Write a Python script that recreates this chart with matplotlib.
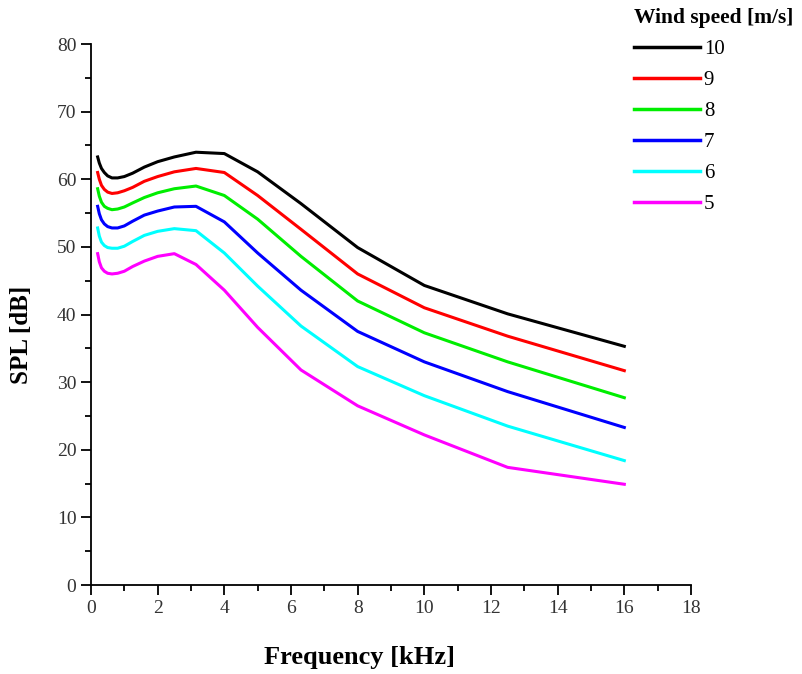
import matplotlib
matplotlib.use("Agg")
from matplotlib import pyplot as plt
from matplotlib.ticker import MultipleLocator

plt.rcParams["font.family"] = ["Liberation Serif", "DejaVu Serif"]

# one-third octave band centre frequencies [kHz]
freq = [0.2, 0.25, 0.315, 0.4, 0.5, 0.63, 0.8, 1.0, 1.25, 1.6, 2.0, 2.5,
        3.15, 4.0, 5.0, 6.3, 8.0, 10.0, 12.5, 16.0]

# SPL [dB] per wind speed [m/s]
spl_10 = [63.3, 62.4, 61.6, 61.0, 60.5, 60.2, 60.2, 60.4, 60.9, 61.8, 62.6, 63.3,
          64.0, 63.8, 61.1, 56.4, 49.9, 44.3, 40.1, 35.3]
spl_9 = [61.0, 60.0, 59.1, 58.5, 58.1, 57.9, 58.0, 58.3, 58.8, 59.7, 60.4, 61.1,
         61.6, 61.0, 57.6, 52.6, 46.0, 41.0, 36.8, 31.7]
spl_8 = [58.6, 57.5, 56.6, 56.0, 55.7, 55.5, 55.6, 55.9, 56.5, 57.3, 58.0, 58.6,
         59.0, 57.6, 54.1, 48.6, 42.0, 37.3, 33.0, 27.7]
spl_7 = [56.0, 54.9, 54.0, 53.4, 53.0, 52.8, 52.8, 53.1, 53.8, 54.7, 55.3, 55.9,
         56.0, 53.7, 49.1, 43.6, 37.5, 33.0, 28.6, 23.3]
spl_6 = [52.8, 51.6, 50.7, 50.2, 49.9, 49.8, 49.8, 50.1, 50.8, 51.7, 52.3, 52.7,
         52.4, 49.1, 44.2, 38.3, 32.3, 28.0, 23.5, 18.4]
spl_5 = [49.0, 47.8, 46.9, 46.4, 46.1, 46.0, 46.1, 46.4, 47.1, 47.9, 48.6, 49.0,
         47.4, 43.6, 38.1, 31.8, 26.5, 22.2, 17.4, 14.9]

speeds = ["10", "9", "8", "7", "6", "5"]
series = [spl_10, spl_9, spl_8, spl_7, spl_6, spl_5]
colors = ["#000000", "#ff0000", "#00ee00", "#0000ff", "#00ffff", "#ff00ff"]

fig = plt.figure(figsize=(8.03, 6.74), dpi=100)
ax = fig.add_axes([0.1133, 0.132, 0.7472, 0.8027])

for label, values, color in zip(speeds, series, colors):
    ax.plot(freq, values, color=color, lw=2.2, label=label)

ax.set_xlim(0, 18)
ax.set_ylim(0, 80)
ax.xaxis.set_major_locator(MultipleLocator(2))
ax.xaxis.set_minor_locator(MultipleLocator(1))
ax.yaxis.set_major_locator(MultipleLocator(10))
ax.yaxis.set_minor_locator(MultipleLocator(5))

for side in ("top", "right"):
    ax.spines[side].set_visible(False)
for side in ("left", "bottom"):
    ax.spines[side].set_linewidth(1.3)
ax.tick_params(which="major", direction="out", length=7, width=1.3,
               labelsize=14, colors="black")
ax.tick_params(which="minor", direction="out", length=4, width=1.3)
for lab in ax.get_xticklabels() + ax.get_yticklabels():
    lab.set_color("#333333")

ax.set_xlabel("Frequency [kHz]", fontsize=19, fontweight="bold")
ax.set_ylabel("SPL [dB]", fontsize=18, fontweight="bold")
ax.xaxis.set_label_coords(0.448, -0.113)
ax.yaxis.set_label_coords(-0.097, 0.462)

leg = ax.legend(title="Wind speed [m/s]", loc="upper left",
                bbox_to_anchor=(634 / 803, 1 - 8 / 674),
                bbox_transform=fig.transFigure, frameon=False, fontsize=15,
                handlelength=3.15, handletextpad=0.2, labelspacing=0.55,
                borderaxespad=0, borderpad=0)
leg.get_title().set_fontweight("bold")
leg.get_title().set_fontsize(15.5)
leg._legend_box.align = "left"
for line in leg.get_lines():
    line.set_linewidth(2.5)

fig.savefig("out.png", dpi=100)
